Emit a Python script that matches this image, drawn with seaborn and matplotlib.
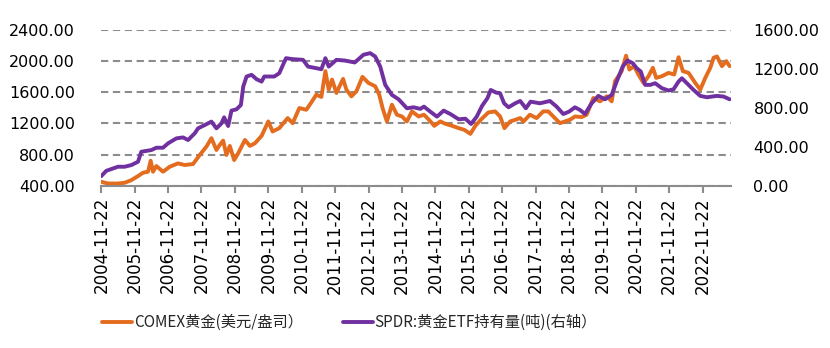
import numpy as np
import pandas as pd
import matplotlib
matplotlib.use("Agg")
import matplotlib.pyplot as plt
import matplotlib.dates as mdates
import seaborn as sns

# COMEX gold price (USD/oz), sampled at decimal-year positions
gold_years = [2004.89, 2005.09, 2005.39, 2005.59, 2005.79, 2005.99, 2006.14, 2006.29, 2006.37, 2006.44,
              2006.54, 2006.74, 2006.94, 2007.19, 2007.39, 2007.64, 2007.84, 2008.04, 2008.19, 2008.34,
              2008.44, 2008.54, 2008.64, 2008.74, 2008.87, 2008.99, 2009.19, 2009.34, 2009.49, 2009.69,
              2009.89, 2010.02, 2010.22, 2010.47, 2010.62, 2010.82, 2011.03, 2011.18, 2011.33, 2011.48,
              2011.60, 2011.70, 2011.80, 2011.93, 2012.13, 2012.23, 2012.38, 2012.53, 2012.71, 2012.89,
              2013.09, 2013.21, 2013.31, 2013.44, 2013.59, 2013.74, 2013.89, 2014.04, 2014.19, 2014.39,
              2014.55, 2014.70, 2014.86, 2015.04, 2015.19, 2015.39, 2015.59, 2015.76, 2015.94, 2016.09,
              2016.25, 2016.48, 2016.68, 2016.83, 2016.96, 2017.13, 2017.28, 2017.43, 2017.53, 2017.72,
              2017.92, 2018.12, 2018.27, 2018.42, 2018.62, 2018.77, 2018.92, 2019.07, 2019.27, 2019.42,
              2019.62, 2019.82, 2020.02, 2020.17, 2020.27, 2020.47, 2020.60, 2020.70, 2020.84, 2020.97,
              2021.12, 2021.27, 2021.40, 2021.50, 2021.67, 2021.87, 2022.04, 2022.17, 2022.30, 2022.47,
              2022.67, 2022.82, 2022.97, 2023.12, 2023.22, 2023.32, 2023.47, 2023.60, 2023.70]
gold_price = [452, 430, 430, 439, 473, 525, 568, 581, 722, 581,
              654, 581, 645, 688, 667, 680, 796, 903, 1011, 860,
              925, 980, 796, 912, 731, 817, 989, 912, 946, 1041,
              1226, 1097, 1140, 1269, 1204, 1398, 1376, 1471, 1570, 1540,
              1871, 1634, 1763, 1591, 1772, 1634, 1548, 1613, 1798, 1720,
              1677, 1570, 1398, 1226, 1441, 1312, 1290, 1226, 1355, 1290,
              1312, 1247, 1170, 1226, 1196, 1170, 1140, 1118, 1067, 1170,
              1247, 1342, 1355, 1290, 1140, 1226, 1247, 1269, 1226, 1312,
              1269, 1355, 1355, 1290, 1204, 1226, 1247, 1290, 1282, 1312,
              1527, 1484, 1548, 1484, 1742, 1871, 2070, 1892, 1935, 1828,
              1720, 1806, 1914, 1785, 1806, 1849, 1828, 2050, 1871, 1849,
              1720, 1634, 1785, 1914, 2043, 2060, 1935, 2000, 1935]

# SPDR gold ETF holdings (tonnes)
spdr_years = [2004.89, 2005.04, 2005.24, 2005.39, 2005.59, 2005.79, 2005.99, 2006.09, 2006.39, 2006.54,
              2006.74, 2006.89, 2007.14, 2007.34, 2007.49, 2007.69, 2007.79, 2007.99, 2008.19, 2008.34,
              2008.49, 2008.57, 2008.69, 2008.79, 2008.94, 2009.07, 2009.14, 2009.24, 2009.39, 2009.54,
              2009.69, 2009.77, 2010.07, 2010.22, 2010.42, 2010.63, 2010.93, 2011.08, 2011.33, 2011.48,
              2011.60, 2011.70, 2011.93, 2012.18, 2012.48, 2012.74, 2012.94, 2013.09, 2013.24, 2013.39,
              2013.59, 2013.79, 2014.04, 2014.24, 2014.44, 2014.55, 2014.74, 2014.94, 2015.14, 2015.34,
              2015.59, 2015.79, 2015.96, 2016.13, 2016.29, 2016.45, 2016.55, 2016.71, 2016.83, 2016.95,
              2017.08, 2017.28, 2017.43, 2017.60, 2017.74, 2018.02, 2018.32, 2018.52, 2018.72, 2018.89,
              2019.07, 2019.22, 2019.37, 2019.57, 2019.77, 2019.97, 2020.17, 2020.32, 2020.50, 2020.64,
              2020.80, 2020.92, 2021.04, 2021.17, 2021.32, 2021.47, 2021.67, 2021.87, 2022.02, 2022.17,
              2022.27, 2022.42, 2022.62, 2022.82, 2023.02, 2023.32, 2023.52, 2023.70]
spdr_tonnes = [99, 154, 178, 196, 196, 213, 247, 350, 367, 391,
               391, 436, 487, 497, 470, 539, 590, 624, 659, 590,
               641, 703, 614, 772, 785, 830, 1019, 1122, 1139, 1094,
               1070, 1122, 1122, 1156, 1310, 1300, 1293, 1224, 1207, 1197,
               1310, 1224, 1293, 1286, 1266, 1345, 1362, 1327, 1224, 1036,
               933, 888, 796, 806, 790, 813, 761, 710, 772, 737,
               683, 689, 635, 710, 820, 899, 984, 957, 950, 847,
               806, 847, 871, 796, 864, 847, 871, 813, 737, 761,
               806, 779, 737, 847, 923, 888, 933, 1070, 1224, 1286,
               1259, 1207, 1173, 1036, 1036, 1053, 1002, 978, 991, 1070,
               1104, 1053, 984, 923, 909, 923, 916, 888]

tick_dates = [f"{y}-11-22" for y in range(2004, 2023)]
left_ticks = [400, 800, 1200, 1600, 2000, 2400]
right_ticks = [0, 400, 800, 1200, 1600]

gold_label = "COMEX黄金(美元/盎司）"
spdr_label = "SPDR:黄金ETF持有量(吨)(右轴）"
ORANGE = "#E46C1E"
PURPLE = "#7030A0"
GRID = "#8C8C8C"


def to_datetime(years):
    out = []
    for y in years:
        base = int(y)
        out.append(pd.Timestamp(base, 1, 1) + pd.Timedelta(days=(y - base) * 365.25))
    return out


gold_df = pd.DataFrame({"date": to_datetime(gold_years), "price": gold_price})
spdr_df = pd.DataFrame({"date": to_datetime(spdr_years), "tonnes": spdr_tonnes})

sns.set_theme(style="white")
plt.rcParams["font.family"] = ["DejaVu Sans"]

fig = plt.figure(figsize=(8.3, 3.48), dpi=100)
ax = fig.add_axes([0.122, 0.466, 0.759, 0.448])
ax2 = ax.twinx()

sns.lineplot(data=gold_df, x="date", y="price", ax=ax, color=ORANGE, lw=2.8, label=gold_label, legend=False)
sns.lineplot(data=spdr_df, x="date", y="tonnes", ax=ax2, color=PURPLE, lw=2.8, label=spdr_label, legend=False)

ax.set_ylim(400, 2400)
ax2.set_ylim(0, 1600)
ax.set_yticks(left_ticks)
ax2.set_yticks(right_ticks)
ax.set_yticklabels([f"{v:.2f}" for v in left_ticks], fontsize=11.5)
ax2.set_yticklabels([f"{v:.2f}" for v in right_ticks], fontsize=11.5)

xt = pd.to_datetime(tick_dates)
ax.set_xlim(pd.Timestamp("2004-11-22"), pd.Timestamp("2023-10-01"))
ax.set_xticks(xt)
ax.xaxis.set_major_formatter(mdates.DateFormatter("%Y-%m-%d"))
plt.setp(ax.get_xticklabels(), rotation=90, fontsize=12)

ax.grid(axis="y", color=GRID, lw=1.5, ls=(0, (3.5, 2.2)))
ax.grid(axis="x", visible=False)
ax2.grid(False)
ax.set_axisbelow(True)

for a in (ax, ax2):
    for s in ("top", "left", "right"):
        a.spines[s].set_visible(False)
    a.set_xlabel("")
    a.set_ylabel("")
ax2.spines["bottom"].set_visible(False)
ax.spines["bottom"].set_color(GRID)
ax.spines["bottom"].set_linewidth(1.5)
ax.tick_params(axis="x", bottom=True, length=5, width=1.5, color=GRID, pad=3, labelcolor="black")
ax.tick_params(axis="y", left=False, pad=13, labelcolor="black")
ax2.tick_params(axis="y", right=False, pad=10, labelcolor="black")

handles = ax.get_lines()[:1] + ax2.get_lines()[:1]
fig.legend(handles, [gold_label, spdr_label], loc="center", bbox_to_anchor=(0.421, 0.073),
           ncol=2, frameon=False, handlelength=2.0, handletextpad=0.1, columnspacing=2.6,
           prop={"family": ["Noto Sans CJK SC", "DejaVu Sans"], "size": 11})

fig.savefig("out.png", dpi=100)
